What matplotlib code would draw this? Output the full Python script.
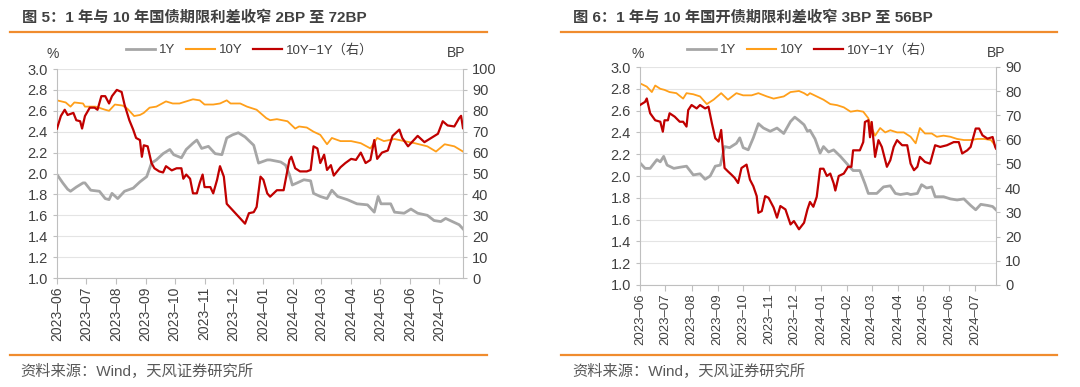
import matplotlib
matplotlib.use("Agg")
import matplotlib.pyplot as plt
import matplotlib.dates as mdates
from matplotlib.lines import Line2D
from matplotlib.ticker import FormatStrFormatter, FuncFormatter
import numpy as np
import pandas as pd

plt.rcParams["font.family"] = ["Liberation Sans", "Noto Sans CJK SC", "DejaVu Sans"]

GRAY = "#A6A6A6"
ORANGE = "#FF9F1A"
RED = "#C00000"
ACCENT = "#F08C2E"
TXT = "#404040"
SPINE = "#BFBFBF"

START, END = "2023-06-01", "2024-07-26"

# ---- left chart: treasury (国债) ----
LEFT_TITLE = "图 5：1 年与 10 年国债期限利差收窄 2BP 至 72BP"
LEFT_1Y = [
    ("2023-06-01", 1.99), ("2023-06-07", 1.91), ("2023-06-12", 1.85), ("2023-06-15", 1.83),
    ("2023-06-21", 1.87), ("2023-06-28", 1.91), ("2023-06-30", 1.91), ("2023-07-06", 1.84),
    ("2023-07-15", 1.83), ("2023-07-21", 1.76), ("2023-07-25", 1.75), ("2023-07-28", 1.81),
    ("2023-08-03", 1.76), ("2023-08-10", 1.83), ("2023-08-19", 1.86), ("2023-08-26", 1.92),
    ("2023-09-02", 1.97), ("2023-09-07", 2.10), ("2023-09-12", 2.13), ("2023-09-19", 2.19),
    ("2023-09-26", 2.23), ("2023-09-30", 2.18), ("2023-10-08", 2.15), ("2023-10-13", 2.23),
    ("2023-10-20", 2.29), ("2023-10-24", 2.32), ("2023-10-29", 2.24), ("2023-11-05", 2.26),
    ("2023-11-12", 2.19), ("2023-11-19", 2.18), ("2023-11-24", 2.34), ("2023-11-30", 2.37),
    ("2023-12-06", 2.39), ("2023-12-13", 2.35), ("2023-12-22", 2.27), ("2023-12-27", 2.10),
    ("2024-01-05", 2.13), ("2024-01-08", 2.13), ("2024-01-19", 2.11), ("2024-01-24", 2.08),
    ("2024-01-28", 1.99), ("2024-01-31", 1.89), ("2024-02-05", 1.91), ("2024-02-12", 1.94),
    ("2024-02-19", 1.93), ("2024-02-22", 1.81), ("2024-02-29", 1.78), ("2024-03-07", 1.76),
    ("2024-03-12", 1.84), ("2024-03-18", 1.78), ("2024-03-28", 1.75), ("2024-04-07", 1.71),
    ("2024-04-18", 1.70), ("2024-04-25", 1.63), ("2024-04-29", 1.78), ("2024-05-02", 1.71),
    ("2024-05-12", 1.71), ("2024-05-16", 1.63), ("2024-05-26", 1.62), ("2024-06-02", 1.66),
    ("2024-06-09", 1.62), ("2024-06-19", 1.60), ("2024-06-26", 1.55), ("2024-07-03", 1.54),
    ("2024-07-08", 1.57), ("2024-07-15", 1.54), ("2024-07-22", 1.51), ("2024-07-26", 1.47),
]
LEFT_10Y = [
    ("2023-06-01", 2.70), ("2023-06-10", 2.68), ("2023-06-15", 2.64), ("2023-06-19", 2.68),
    ("2023-06-28", 2.67), ("2023-06-30", 2.64), ("2023-07-11", 2.64), ("2023-07-21", 2.61),
    ("2023-07-25", 2.60), ("2023-07-31", 2.66), ("2023-08-08", 2.65), ("2023-08-13", 2.62),
    ("2023-08-20", 2.55), ("2023-08-26", 2.56), ("2023-08-30", 2.58), ("2023-09-05", 2.63),
    ("2023-09-12", 2.64), ("2023-09-22", 2.69), ("2023-09-29", 2.67), ("2023-10-06", 2.67),
    ("2023-10-13", 2.69), ("2023-10-20", 2.71), ("2023-10-27", 2.70), ("2023-11-01", 2.66),
    ("2023-11-10", 2.66), ("2023-11-17", 2.67), ("2023-11-24", 2.70), ("2023-11-28", 2.67),
    ("2023-12-08", 2.67), ("2023-12-15", 2.64), ("2023-12-25", 2.61), ("2024-01-04", 2.53),
    ("2024-01-08", 2.51), ("2024-01-15", 2.52), ("2024-01-26", 2.50), ("2024-02-03", 2.43),
    ("2024-02-07", 2.45), ("2024-02-15", 2.44), ("2024-02-22", 2.40), ("2024-02-29", 2.37),
    ("2024-03-07", 2.28), ("2024-03-12", 2.34), ("2024-03-21", 2.31), ("2024-04-01", 2.31),
    ("2024-04-11", 2.29), ("2024-04-21", 2.24), ("2024-04-28", 2.34), ("2024-05-05", 2.31),
    ("2024-05-16", 2.33), ("2024-05-26", 2.31), ("2024-06-06", 2.29), ("2024-06-19", 2.26),
    ("2024-06-28", 2.21), ("2024-07-07", 2.28), ("2024-07-17", 2.26), ("2024-07-26", 2.21),
]
LEFT_SPREAD = [
    ("2023-06-01", 71.5), ("2023-06-05", 77.5), ("2023-06-09", 80.5), ("2023-06-12", 78.0),
    ("2023-06-18", 79.0), ("2023-06-21", 75.5), ("2023-06-25", 75.0), ("2023-06-27", 71.5),
    ("2023-06-30", 77.5), ("2023-07-05", 81.5), ("2023-07-10", 81.5), ("2023-07-13", 80.5),
    ("2023-07-17", 87.0), ("2023-07-21", 87.0), ("2023-07-25", 83.5), ("2023-07-28", 87.0),
    ("2023-08-02", 90.0), ("2023-08-07", 89.0), ("2023-08-10", 83.0), ("2023-08-15", 75.5),
    ("2023-08-19", 71.0), ("2023-08-22", 67.0), ("2023-08-26", 66.0), ("2023-08-28", 58.0),
    ("2023-08-30", 63.5), ("2023-09-03", 63.0), ("2023-09-07", 55.0), ("2023-09-10", 52.5),
    ("2023-09-15", 51.0), ("2023-09-19", 50.5), ("2023-09-22", 53.5), ("2023-09-28", 51.5),
    ("2023-10-03", 52.5), ("2023-10-08", 52.5), ("2023-10-10", 47.5), ("2023-10-13", 49.5),
    ("2023-10-17", 47.5), ("2023-10-20", 40.5), ("2023-10-24", 40.5), ("2023-10-27", 45.5),
    ("2023-10-30", 49.5), ("2023-11-01", 43.5), ("2023-11-07", 43.5), ("2023-11-10", 40.5),
    ("2023-11-14", 47.0), ("2023-11-17", 53.5), ("2023-11-21", 48.5), ("2023-11-24", 35.5),
    ("2023-11-30", 32.5), ("2023-12-05", 30.0), ("2023-12-10", 27.5), ("2023-12-13", 26.0),
    ("2023-12-17", 31.0), ("2023-12-22", 31.5), ("2023-12-25", 34.0), ("2023-12-29", 48.5),
    ("2024-01-01", 47.0), ("2024-01-05", 40.5), ("2024-01-08", 38.9), ("2024-01-15", 42.0),
    ("2024-01-22", 42.0), ("2024-01-28", 56.5), ("2024-01-30", 58.0), ("2024-02-03", 52.5),
    ("2024-02-08", 51.0), ("2024-02-15", 51.0), ("2024-02-19", 51.7), ("2024-02-22", 63.0),
    ("2024-02-26", 62.0), ("2024-02-29", 55.0), ("2024-03-04", 59.0), ("2024-03-07", 51.7),
    ("2024-03-11", 54.0), ("2024-03-14", 49.0), ("2024-03-21", 53.0), ("2024-03-26", 55.0),
    ("2024-04-01", 57.0), ("2024-04-06", 56.5), ("2024-04-11", 60.0), ("2024-04-16", 55.0),
    ("2024-04-21", 56.5), ("2024-04-25", 66.0), ("2024-04-28", 57.0), ("2024-05-03", 60.0),
    ("2024-05-09", 61.0), ("2024-05-14", 68.0), ("2024-05-21", 71.0), ("2024-05-24", 67.0),
    ("2024-05-30", 63.0), ("2024-06-02", 64.5), ("2024-06-09", 68.0), ("2024-06-16", 65.0),
    ("2024-06-23", 67.0), ("2024-06-30", 69.0), ("2024-07-05", 75.0), ("2024-07-10", 73.0),
    ("2024-07-17", 72.5), ("2024-07-22", 76.5), ("2024-07-24", 77.6), ("2024-07-26", 71.7),
]

# ---- right chart: policy bank (国开债) ----
RIGHT_TITLE = "图 6：1 年与 10 年国开债期限利差收窄 3BP 至 56BP"
RIGHT_1Y = [
    ("2023-06-01", 2.12), ("2023-06-07", 2.07), ("2023-06-13", 2.07), ("2023-06-21", 2.15),
    ("2023-06-25", 2.13), ("2023-06-29", 2.18), ("2023-07-03", 2.10), ("2023-07-11", 2.07),
    ("2023-07-18", 2.08), ("2023-07-26", 2.09), ("2023-08-03", 2.01), ("2023-08-11", 2.02),
    ("2023-08-17", 1.97), ("2023-08-23", 2.00), ("2023-08-29", 2.09), ("2023-09-04", 2.10),
    ("2023-09-09", 2.27), ("2023-09-15", 2.26), ("2023-09-23", 2.30), ("2023-09-27", 2.35),
    ("2023-10-01", 2.26), ("2023-10-07", 2.24), ("2023-10-13", 2.35), ("2023-10-19", 2.48),
    ("2023-10-25", 2.44), ("2023-11-02", 2.41), ("2023-11-10", 2.44), ("2023-11-18", 2.39),
    ("2023-11-26", 2.50), ("2023-12-01", 2.54), ("2023-12-06", 2.51), ("2023-12-12", 2.47),
    ("2023-12-16", 2.41), ("2023-12-19", 2.42), ("2023-12-25", 2.34), ("2023-12-31", 2.21),
    ("2024-01-04", 2.27), ("2024-01-10", 2.22), ("2024-01-16", 2.24), ("2024-01-24", 2.18),
    ("2024-02-01", 2.11), ("2024-02-08", 2.05), ("2024-02-16", 2.05), ("2024-02-22", 1.93),
    ("2024-02-26", 1.84), ("2024-03-07", 1.84), ("2024-03-15", 1.90), ("2024-03-23", 1.91),
    ("2024-03-29", 1.84), ("2024-04-04", 1.83), ("2024-04-12", 1.84), ("2024-04-16", 1.83),
    ("2024-04-24", 1.84), ("2024-04-29", 1.92), ("2024-05-05", 1.89), ("2024-05-11", 1.90),
    ("2024-05-15", 1.81), ("2024-05-25", 1.81), ("2024-06-02", 1.79), ("2024-06-10", 1.78),
    ("2024-06-18", 1.79), ("2024-06-26", 1.73), ("2024-07-02", 1.69), ("2024-07-08", 1.74),
    ("2024-07-16", 1.73), ("2024-07-22", 1.72), ("2024-07-26", 1.69),
]
RIGHT_10Y = [
    ("2023-06-01", 2.85), ("2023-06-09", 2.82), ("2023-06-15", 2.77), ("2023-06-19", 2.83),
    ("2023-06-25", 2.80), ("2023-06-30", 2.79), ("2023-07-06", 2.77), ("2023-07-14", 2.76),
    ("2023-07-22", 2.71), ("2023-07-26", 2.76), ("2023-08-03", 2.75), ("2023-08-11", 2.73),
    ("2023-08-19", 2.66), ("2023-08-27", 2.70), ("2023-09-05", 2.76), ("2023-09-13", 2.70),
    ("2023-09-23", 2.76), ("2023-10-01", 2.74), ("2023-10-11", 2.74), ("2023-10-19", 2.76),
    ("2023-10-29", 2.73), ("2023-11-06", 2.71), ("2023-11-18", 2.73), ("2023-11-26", 2.77),
    ("2023-12-06", 2.78), ("2023-12-12", 2.76), ("2023-12-16", 2.74), ("2023-12-19", 2.76),
    ("2023-12-27", 2.73), ("2024-01-04", 2.70), ("2024-01-12", 2.66), ("2024-01-20", 2.65),
    ("2024-01-28", 2.63), ("2024-02-05", 2.59), ("2024-02-13", 2.60), ("2024-02-20", 2.59),
    ("2024-02-26", 2.53), ("2024-03-01", 2.44), ("2024-03-05", 2.37), ("2024-03-11", 2.44),
    ("2024-03-17", 2.40), ("2024-03-23", 2.42), ("2024-03-31", 2.40), ("2024-04-08", 2.40),
    ("2024-04-16", 2.36), ("2024-04-22", 2.30), ("2024-04-27", 2.44), ("2024-05-03", 2.39),
    ("2024-05-11", 2.39), ("2024-05-17", 2.36), ("2024-05-25", 2.37), ("2024-06-02", 2.36),
    ("2024-06-10", 2.34), ("2024-06-18", 2.33), ("2024-06-26", 2.33), ("2024-07-04", 2.34),
    ("2024-07-12", 2.34), ("2024-07-20", 2.33), ("2024-07-26", 2.27),
]
RIGHT_SPREAD = [
    ("2023-06-01", 74.3), ("2023-06-07", 75.6), ("2023-06-09", 77.0), ("2023-06-13", 70.9),
    ("2023-06-19", 68.0), ("2023-06-25", 67.4), ("2023-06-28", 63.3), ("2023-06-30", 68.0),
    ("2023-07-04", 68.0), ("2023-07-06", 70.9), ("2023-07-12", 69.5), ("2023-07-18", 67.4),
    ("2023-07-22", 67.4), ("2023-07-26", 65.4), ("2023-07-28", 72.2), ("2023-08-01", 74.3),
    ("2023-08-07", 72.9), ("2023-08-11", 74.3), ("2023-08-17", 72.9), ("2023-08-21", 73.6),
    ("2023-08-25", 66.8), ("2023-08-29", 60.6), ("2023-09-02", 59.2), ("2023-09-05", 64.0),
    ("2023-09-09", 48.3), ("2023-09-13", 46.9), ("2023-09-17", 45.6), ("2023-09-21", 44.2),
    ("2023-09-25", 42.1), ("2023-09-29", 48.3), ("2023-10-05", 49.7), ("2023-10-09", 43.5),
    ("2023-10-13", 40.8), ("2023-10-17", 36.7), ("2023-10-19", 29.8), ("2023-10-23", 30.5),
    ("2023-10-27", 36.7), ("2023-10-31", 36.0), ("2023-11-06", 32.0), ("2023-11-10", 27.8),
    ("2023-11-14", 32.6), ("2023-11-20", 31.2), ("2023-11-26", 25.0), ("2023-11-30", 26.4),
    ("2023-12-06", 23.0), ("2023-12-12", 25.7), ("2023-12-16", 31.2), ("2023-12-19", 34.3),
    ("2023-12-23", 32.3), ("2023-12-27", 36.4), ("2023-12-31", 48.0), ("2024-01-04", 48.0),
    ("2024-01-08", 45.0), ("2024-01-12", 46.0), ("2024-01-16", 42.0), ("2024-01-18", 39.0),
    ("2024-01-22", 45.0), ("2024-01-28", 46.0), ("2024-02-02", 48.8), ("2024-02-06", 48.8),
    ("2024-02-08", 55.6), ("2024-02-16", 55.6), ("2024-02-20", 59.0), ("2024-02-22", 67.3),
    ("2024-02-26", 68.0), ("2024-02-28", 61.0), ("2024-03-01", 67.3), ("2024-03-05", 52.9),
    ("2024-03-09", 59.8), ("2024-03-13", 57.0), ("2024-03-19", 48.8), ("2024-03-23", 51.5),
    ("2024-03-27", 57.0), ("2024-03-31", 59.8), ("2024-04-06", 57.7), ("2024-04-12", 57.7),
    ("2024-04-16", 50.1), ("2024-04-20", 47.4), ("2024-04-24", 48.8), ("2024-04-27", 52.9),
    ("2024-05-03", 50.8), ("2024-05-09", 50.1), ("2024-05-15", 57.7), ("2024-05-21", 57.0),
    ("2024-05-29", 57.7), ("2024-06-06", 59.0), ("2024-06-12", 59.0), ("2024-06-16", 54.3),
    ("2024-06-22", 55.6), ("2024-06-26", 57.0), ("2024-07-02", 64.6), ("2024-07-06", 64.6),
    ("2024-07-10", 61.8), ("2024-07-16", 60.4), ("2024-07-22", 61.1), ("2024-07-25", 57.0),
    ("2024-07-26", 56.3),
]

SOURCE = "资料来源：Wind，天风证券研究所"
LEGEND_LABELS = ["1Y", "10Y", "10Y−1Y（右）"]

W, H = 1080, 387


def px(x0, y_top, x1, y_bot):
    """pixel box -> figure-fraction rect"""
    return [x0 / W, 1 - y_bot / H, (x1 - x0) / W, (y_bot - y_top) / H]


def series(pairs):
    return pd.to_datetime([p[0] for p in pairs]), [p[1] for p in pairs]


def month_fmt(x, pos):
    d = mdates.num2date(x)
    return f"{d.year}–{d.month:02d}"


def panel(fig, rect, y1, y10, spread, rmax, xfs):
    ax = fig.add_axes(rect)
    d, v = series(y1)
    ax.plot(d, v, color=GRAY, lw=2.0)
    d, v = series(y10)
    ax.plot(d, v, color=ORANGE, lw=1.3)
    ax.set_ylim(1.0, 3.0)
    ax.set_yticks(np.arange(1.0, 3.01, 0.2))
    ax.yaxis.set_major_formatter(FormatStrFormatter("%.1f"))
    ax.grid(axis="y", color="#E4E4E4", lw=0.8)
    ax.set_axisbelow(True)
    ax.set_xlim(pd.Timestamp(START), pd.Timestamp(END))
    ax.xaxis.set_major_locator(mdates.MonthLocator())
    ax.xaxis.set_major_formatter(FuncFormatter(month_fmt))
    ax.tick_params(axis="x", rotation=90, labelsize=xfs, colors=SPINE, labelcolor=TXT,
                   length=4, pad=2)
    ax.tick_params(axis="y", labelsize=10.5, colors=SPINE, labelcolor=TXT, length=3)
    for s in ("top", "right"):
        ax.spines[s].set_visible(False)
    for s in ("left", "bottom"):
        ax.spines[s].set_color(SPINE)

    ax2 = ax.twinx()
    d, v = series(spread)
    ax2.plot(d, v, color=RED, lw=1.6)
    ax2.set_ylim(0, rmax)
    ax2.set_yticks(range(0, rmax + 1, 10))
    ax2.tick_params(axis="y", labelsize=10.5, colors=SPINE, labelcolor=TXT, length=3)
    for s in ("top", "left", "bottom"):
        ax2.spines[s].set_visible(False)
    ax2.spines["right"].set_color(SPINE)
    return ax, ax2


fig = plt.figure(figsize=(W / 100, H / 100), dpi=100)

handles = [Line2D([], [], color=GRAY, lw=2.0), Line2D([], [], color=ORANGE, lw=1.5),
           Line2D([], [], color=RED, lw=1.6)]

# left chart
panel(fig, px(57, 69, 463, 278), LEFT_1Y, LEFT_10Y, LEFT_SPREAD, 100, 10)
fig.text(22 / W, 1 - 17 / H, LEFT_TITLE, fontsize=11, weight="bold", color=TXT, va="center")
fig.add_artist(Line2D([10 / W, 487 / W], [1 - 32 / H] * 2, color=ACCENT, lw=1.6))
fig.add_artist(Line2D([10 / W, 487 / W], [1 - 355 / H] * 2, color=ACCENT, lw=1.6))
fig.text(20 / W, 1 - 371 / H, SOURCE, fontsize=11, color="#595959", va="center")
fig.text(53 / W, 1 - 54 / H, "%", fontsize=10, color=TXT, ha="center", va="center")
fig.text(456 / W, 1 - 53 / H, "BP", fontsize=10, color=TXT, ha="center", va="center")
fig.legend(handles, LEGEND_LABELS, loc="center", bbox_to_anchor=(250 / W, 1 - 50 / H),
           ncol=3, frameon=False, fontsize=9.5, handlelength=2.2, handletextpad=0.3,
           columnspacing=0.8, labelcolor=TXT)

# right chart
panel(fig, px(640, 67, 996, 285), RIGHT_1Y, RIGHT_10Y, RIGHT_SPREAD, 90, 9.5)
fig.text(573 / W, 1 - 17 / H, RIGHT_TITLE, fontsize=11, weight="bold", color=TXT, va="center")
fig.add_artist(Line2D([561 / W, 1057 / W], [1 - 32 / H] * 2, color=ACCENT, lw=1.6))
fig.add_artist(Line2D([561 / W, 1057 / W], [1 - 355 / H] * 2, color=ACCENT, lw=1.6))
fig.text(572 / W, 1 - 371 / H, SOURCE, fontsize=11, color="#595959", va="center")
fig.text(638 / W, 1 - 54 / H, "%", fontsize=10, color=TXT, ha="center", va="center")
fig.text(996 / W, 1 - 53 / H, "BP", fontsize=10, color=TXT, ha="center", va="center")
fig.legend(handles, LEGEND_LABELS, loc="center", bbox_to_anchor=(811 / W, 1 - 50 / H),
           ncol=3, frameon=False, fontsize=9.5, handlelength=2.2, handletextpad=0.3,
           columnspacing=0.8, labelcolor=TXT)

fig.savefig("out.png", dpi=100, facecolor="white")
